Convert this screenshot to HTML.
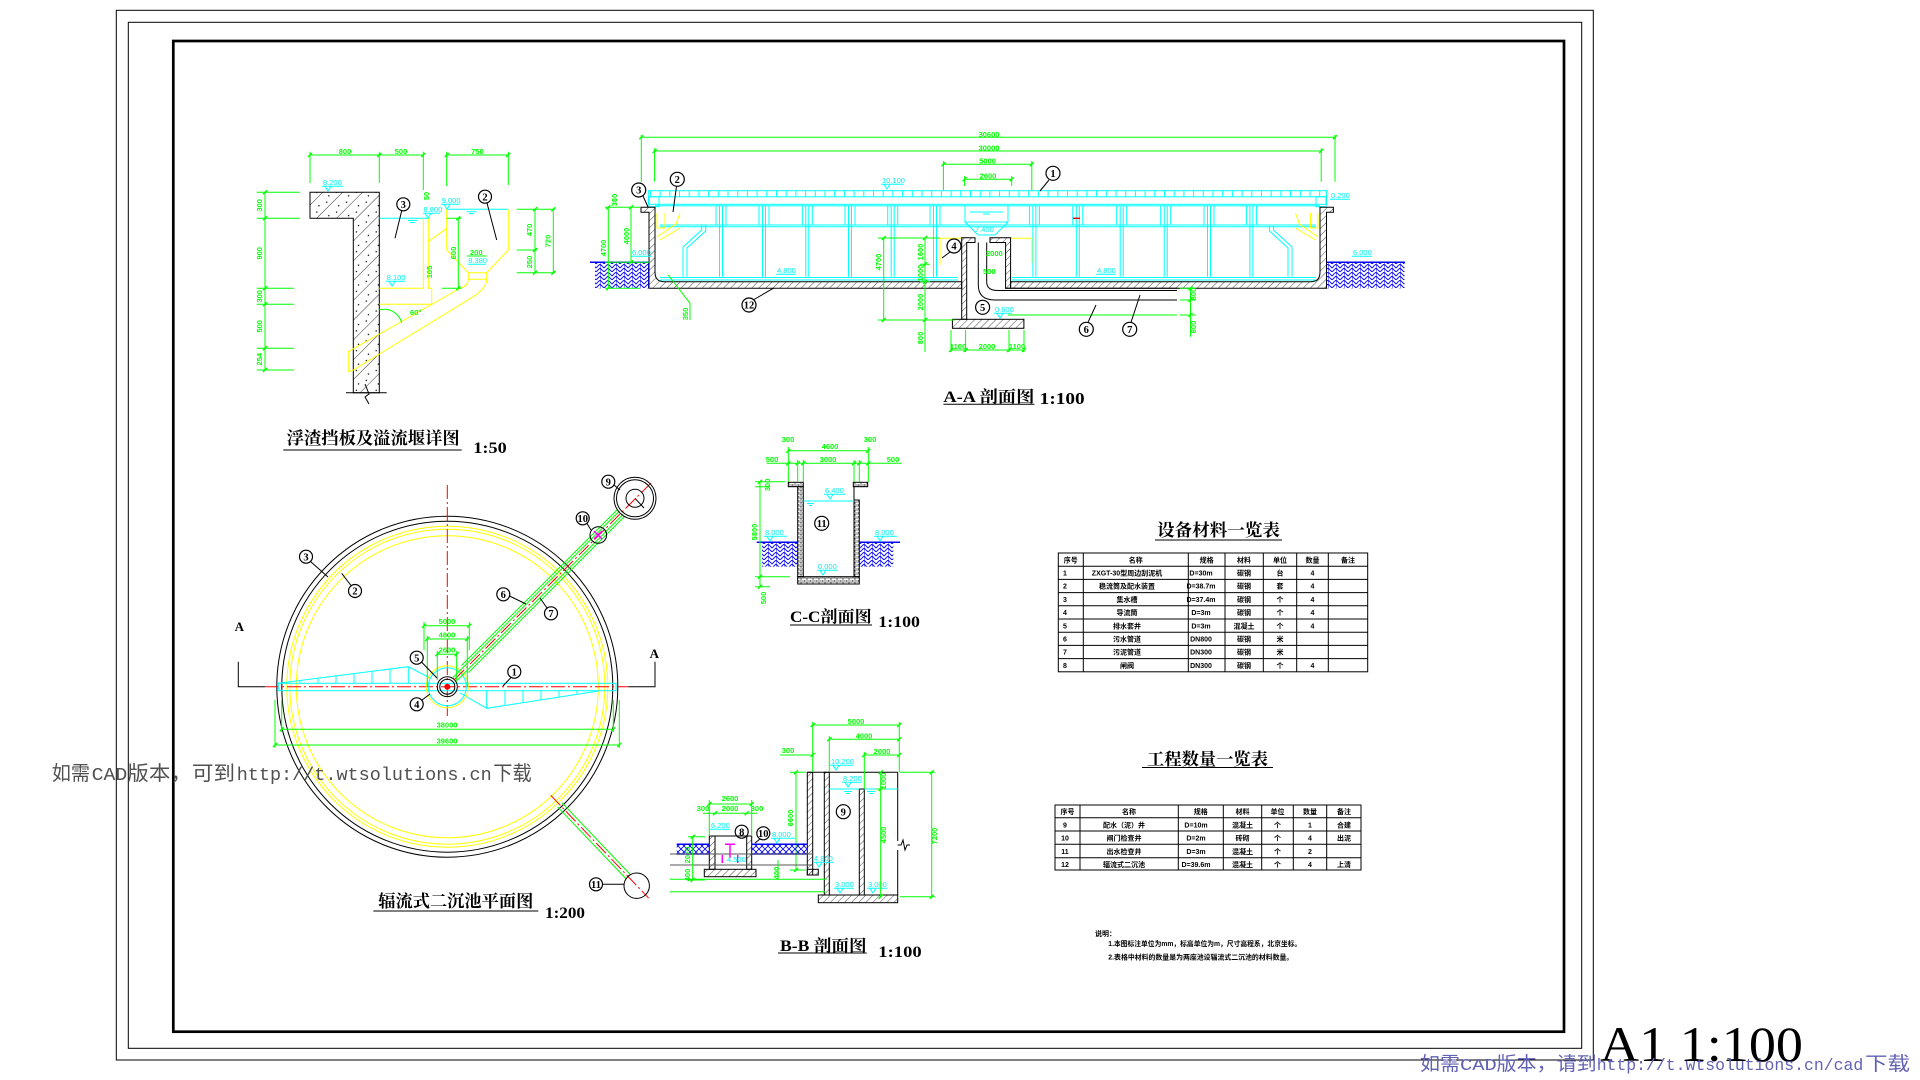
<!DOCTYPE html>
<html><head><meta charset="utf-8">
<style>
html,body{margin:0;padding:0;background:#fff;}
svg{display:block;}
.g{stroke:#00ff00;fill:none;stroke-width:1}
.gt{stroke:#00ff00;fill:none;stroke-width:1.4}
.c{stroke:#00ffff;fill:none;stroke-width:1}
.y{stroke:#ffff00;fill:none;stroke-width:1}
.k{stroke:#000;fill:none;stroke-width:1}
.r{stroke:#ff0000;fill:none;stroke-width:1;stroke-dasharray:14 3 2 3}
.b{stroke:#0000ff;fill:none;stroke-width:1.5}
.m{stroke:#ff00ff;fill:none;stroke-width:1.5}
.tg{fill:#00ff00;font-family:"Liberation Sans",sans-serif;font-weight:bold;font-size:7.5px}
.tc{fill:#00eeee;font-family:"Liberation Sans",sans-serif;font-size:7.5px}
.tt{font-family:"Liberation Serif","Noto Serif CJK SC",serif;font-weight:bold;fill:#000}
.tk{font-family:"Liberation Sans","Noto Sans CJK SC",sans-serif;font-weight:bold;fill:#000;font-size:7px}
.cn{font-family:"Liberation Serif",serif;font-size:10.5px;font-weight:bold;fill:#000;text-anchor:middle}
.ck{stroke:#000;fill:none;stroke-width:1.2}
</style></head><body>
<svg width="1920" height="1080" viewBox="0 0 1920 1080" xmlns="http://www.w3.org/2000/svg">
<defs>
<pattern id="hc" width="14" height="14" patternUnits="userSpaceOnUse" patternTransform="rotate(45)"><line x1="0" y1="0" x2="0" y2="14" stroke="#000" stroke-width="0.8"/><circle cx="7" cy="4" r="0.7" fill="#000"/><circle cx="10" cy="10" r="0.7" fill="#000"/></pattern>
<pattern id="hd" width="5" height="5" patternUnits="userSpaceOnUse" patternTransform="rotate(45)"><line x1="0" y1="0" x2="0" y2="5" stroke="#000" stroke-width="0.7"/></pattern>
<pattern id="soil" width="8" height="8" patternUnits="userSpaceOnUse"><path d="M0 0L4 4L8 0M0 4L4 8L8 4M0 0V8" stroke="#0000ff" stroke-width="0.9" fill="none"/></pattern>
<pattern id="sx" width="6" height="6" patternUnits="userSpaceOnUse"><path d="M0 0L6 6M6 0L0 6" stroke="#0000ff" stroke-width="0.8"/></pattern>
<pattern id="brick" width="6" height="4" patternUnits="userSpaceOnUse"><path d="M0 0H6M0 2H6M0 0V2M3 2V4" stroke="#000" stroke-width="0.6" fill="none"/></pattern>
<pattern id="cv" width="9.7" height="10" patternUnits="userSpaceOnUse"><line x1="0.5" y1="0" x2="0.5" y2="10" stroke="#00ffff" stroke-width="1"/></pattern>
<g id="post"><path d="M-1.5 0V71M1.5 0V71M-5 0V19.3M5 0V19.3" stroke="#00ffff" fill="none"/></g>
</defs>

<!-- FRAMES -->
<rect x="116.3" y="10.3" width="1477" height="1049.7" class="k"/>
<rect x="128.3" y="22.3" width="1453.4" height="1026" class="k"/>
<rect x="173.3" y="41" width="1390.7" height="990.7" fill="none" stroke="#000" stroke-width="2.7"/>

<!-- ===== DETAIL 1 ===== -->
<g>
<path class="g" d="M310 155H423.3M446.7 155H508.3M310 151.7V183M379.3 151.7V183M423.3 151.7V190M446.7 151.7V186M508.3 151.7V185"/>
<path class="gt" d="M308 157l4-4M377.3 157l4-4M421.3 157l4-4M444.7 157l4-4M506.3 157l4-4"/>
<text class="tg" x="345" y="154" text-anchor="middle">800</text>
<text class="tg" x="401" y="154" text-anchor="middle">500</text>
<text class="tg" x="477.5" y="154" text-anchor="middle">750</text>
<path class="g" d="M265 192.3V370M256.7 192.3H300M256.7 218.3H300M256.7 288.3H294M256.7 304.3H294M256.7 348.3H294M256.7 370H294"/>
<path class="gt" d="M263 194.3l4-4M263 220.3l4-4M263 290.3l4-4M263 306.3l4-4M263 350.3l4-4M263 372l4-4"/>
<g class="tg" text-anchor="middle">
<text transform="translate(262,205.3) rotate(-90)">300</text>
<text transform="translate(262,253.3) rotate(-90)">900</text>
<text transform="translate(262,296.3) rotate(-90)">300</text>
<text transform="translate(262,326.3) rotate(-90)">500</text>
<text transform="translate(262,359.2) rotate(-90)">254</text>
</g>
<path d="M310 192.3H379.3V392.7H353.3V218.3H310Z" fill="url(#hc)" stroke="#000"/>
<path class="k" d="M346 392.7H386.7M365 384L369 394L365 397L369 404"/>
<path class="c" d="M379.3 218.3H430M446.7 209.3H508.3M408 220.5H417M410 222.5H415M466.7 211.7H476.7M469 213.5H474"/>
<text class="tc" x="323" y="185">8.200</text><path class="c" d="M322 186.3H343M325 186.3L328 191L331 186.3"/>
<text class="tc" x="423.5" y="212">8.800</text><path class="c" d="M423 213.3H440M425 213.3L428 218L431 213.3"/>
<text class="tc" x="441.7" y="203">9.000</text><path class="c" d="M441 204.3H460M444 204.3L447 209L450 204.3"/>
<text class="tc" x="386.7" y="280">8.100</text><path class="c" d="M386 281.3H405M389 281.3L392 286L395 281.3"/>
<text class="tc" x="468.3" y="263">8.380</text><path class="c" d="M468 264.3H486"/>
<path class="y" d="M379.3 288.3H423.3V218.3M428.3 218.3V288.3H431.7V304.3H379.3M428.3 241.7L446.7 228.3M446.7 209.3V250L468.3 272.7H486.7L508.3 250V209.3M468.3 272.7V279.3H486.7V272.7M468.3 279.3Q468 286 460 288.3L348.3 351.7V371.7L353.3 370L473.3 296.7Q486.7 288 486.7 279.3"/>
<path class="g" d="M458.3 218.3V288.3M446.7 218.3H461.7M441.7 288.3H461.7M466.7 256H486.7M379.3 310A18 18 0 0 1 401.7 322.7"/>
<path class="gt" d="M456.3 220.3l4-4M456.3 290.3l4-4"/>
<text class="tg" transform="translate(456,253) rotate(-90)" text-anchor="middle">600</text>
<text class="tg" x="470" y="255">200</text>
<text class="tg" x="410" y="315">60°</text>
<text class="tg" transform="translate(429,196) rotate(-90)" text-anchor="middle">50</text>
<text class="tg" transform="translate(432,272) rotate(-90)" text-anchor="middle">105</text>
<path class="g" d="M535 209.3V272.7M553.3 209.3V272.7M516.7 209.3H555M516.7 250H537M516.7 272.7H555"/>
<path class="gt" d="M533 211.3l4-4M533 252l4-4M533 274.7l4-4M551.3 211.3l4-4M551.3 274.7l4-4"/>
<text class="tg" transform="translate(532,230) rotate(-90)" text-anchor="middle">470</text>
<text class="tg" transform="translate(532,262) rotate(-90)" text-anchor="middle">250</text>
<text class="tg" transform="translate(550.5,241) rotate(-90)" text-anchor="middle">720</text>
<circle cx="403.3" cy="204.3" r="6.5" class="ck"/><text class="cn" x="403.3" y="208">3</text>
<path class="k" d="M401.7 210.8L395 238.3"/>
<circle cx="485" cy="196.7" r="6.5" class="ck"/><text class="cn" x="485" y="200.4">2</text>
<path class="k" d="M487 203L496.7 240"/>
<text class="tt" x="286.7" y="444" font-size="17" textLength="173" lengthAdjust="spacingAndGlyphs">浮渣挡板及溢流堰详图</text>
<path class="k" d="M283.3 450H461.7"/>
<text class="tt" x="473.3" y="453" font-size="16" textLength="33.4" lengthAdjust="spacingAndGlyphs">1:50</text>
</g>

<!-- ===== A-A SECTION ===== -->
<g>
<path class="g" d="M641.3 137.3H1335M641.3 135V181.7M1335 135V181.7M654.6 151H1321.2M654.6 148.3V181.7M1321.2 148.3V181.7M943.4 164.3H1031.8M943.4 161V190M1031.8 161V190M964.6 179.3H1011.7M964.6 176V186M1011.7 176V186"/>
<path class="gt" d="M639.3 139.3l4-4M1333 139.3l4-4M652.6 153l4-4M1319.2 153l4-4M941.4 166.3l4-4M1029.8 166.3l4-4M962.6 181.3l4-4M1009.7 181.3l4-4"/>
<text class="tg" x="989" y="137" text-anchor="middle">30600</text>
<text class="tg" x="989" y="150.5" text-anchor="middle">30000</text>
<text class="tg" x="987.6" y="163.5" text-anchor="middle">5000</text>
<text class="tg" x="988" y="178.5" text-anchor="middle">2600</text>
<rect x="649" y="190.7" width="677" height="6" fill="url(#cv)"/>
<rect class="c" x="648.3" y="190.7" width="678.2" height="13.6"/>
<path class="c" d="M648.3 196.7H1326.5M655 205.7H1320M660 225H1316M660 226.7H1316"/>
<rect class="c" x="649" y="196.7" width="10" height="10"/>
<rect class="c" x="1316" y="196.7" width="10" height="10"/>
<text class="tc" x="882" y="183">10.100</text><path class="c" d="M881 184.3H903M884 184.3L887 189L890 184.3"/>
<text class="tc" x="1331" y="198">0.200</text><path class="c" d="M1330 199.3H1350"/>
<use href="#post" x="721" y="205.7"/><use href="#post" x="764" y="205.7"/><use href="#post" x="807.3" y="205.7"/>
<use href="#post" x="850" y="205.7"/><use href="#post" x="892.7" y="205.7"/><use href="#post" x="935" y="205.7"/>
<use href="#post" x="1034.4" y="205.7"/><use href="#post" x="1077.8" y="205.7"/><use href="#post" x="1121.7" y="205.7"/>
<use href="#post" x="1165.7" y="205.7"/><use href="#post" x="1209" y="205.7"/><use href="#post" x="1251.4" y="205.7"/>
<path class="c" d="M965 205.7V222L978 235H995L1008 222V205.7M965 222H1008M970 212H1003M983 214H990"/>
<text class="tc" x="975" y="232">7.400</text>
<path class="c" d="M701.7 225V230L683 247V276.7M705.7 225V231L687 248V276.7M1273.5 226V230L1292 247V276.7M1269.5 226V231L1288 248V276.7"/>
<path class="c" d="M660 277.5H958M1012 277.5H1316M660 280H958M1012 280H1316"/>
<text class="tc" x="777" y="273">4.800</text><path class="c" d="M776 274.3H796"/>
<text class="tc" x="1097" y="273">4.800</text><path class="c" d="M1096 274.3H1116"/>
<path class="y" d="M657 213V228H665V213M657 237L676 224L680 213M660 240L680 228M1318 213V228H1310.5V213M1318 237L1299.5 224L1295.5 213M1315.5 240L1295.5 228M940 238.3H961.7M940 238.3V265M1010.6 238.3H1031.8V263"/>
<path d="M641 207.3H655V272Q655 281.7 664 281.7H961.7V288.3H649V212.3H641Z" fill="url(#hd)" stroke="#000"/>
<path d="M1333.4 207.3H1320V272Q1320 281.7 1311 281.7H1010.6V288.3H1326.5V212.3H1333.4Z" fill="url(#hd)" stroke="#000"/>
<path d="M961.7 237.7H975V242.5H966.7V319.3H961.7Z" fill="url(#hd)" stroke="#000"/>
<path d="M990 237.7H1010.6V288.3H1005.6V242.5H990Z" fill="url(#hd)" stroke="#000"/>
<rect x="952.4" y="319.3" width="71.5" height="9" fill="url(#hd)" stroke="#000"/>
<path class="k" d="M978.3 242.5V285Q978.3 300 995 300H1177M986.7 242.5V282Q986.7 290.5 998 290.5H1177M1005 288.3H1177"/>
<path class="g" d="M1008 315H1177"/>
<text class="tc" x="995" y="312">0.600</text><path class="c" d="M994 313.3H1012M997 313.3L1000 318L1003 313.3"/>
<path style="stroke:#f00;stroke-width:1.5" d="M1073 218.3H1080"/>
<rect x="595" y="262.3" width="54" height="26" fill="url(#soil)"/>
<path class="b" d="M590 262.3H649"/>
<rect x="1326.5" y="262.3" width="78" height="26" fill="url(#soil)"/>
<path class="b" d="M1326.5 262.3H1405"/>
<text class="tc" x="632" y="255">6.000</text><path class="c" d="M631 256.3H651"/>
<text class="tc" x="1353" y="255">6.000</text><path class="c" d="M1352 256.3H1372"/>
<path class="g" d="M608.3 207.3V288.3M631 207.3V262.3M605 207.3H640M605 262.3H650M605 288.3H640M668.3 275L690 303.3V320"/>
<path class="gt" d="M606.3 209.3l4-4M606.3 290.3l4-4M629 209.3l4-4M629 264.3l4-4"/>
<text class="tg" transform="translate(606,248) rotate(-90)" text-anchor="middle">4700</text>
<text class="tg" transform="translate(629,236) rotate(-90)" text-anchor="middle">4000</text>
<text class="tg" transform="translate(617,200) rotate(-90)" text-anchor="middle">380</text>
<text class="tg" transform="translate(688,314) rotate(-90)" text-anchor="middle">350</text>
<path class="g" d="M883.7 238V320M878 238H940M878 320H955M925 238V352M920 264.3H930M920 281.7H930M951 350H1024M951 330V352M965.6 330V352M1009 330V352M1024 330V352M1190.5 288.3V336.7M1180 288.3H1196M1180 300H1196M1180 315H1196"/>
<path class="gt" d="M881.7 240l4-4M881.7 322l4-4M923 240l4-4M923 266.3l4-4M923 283.7l4-4M923 322l4-4M949 352l4-4M963.6 352l4-4M1007 352l4-4M1022 352l4-4M1188.5 290.3l4-4M1188.5 302l4-4M1188.5 317l4-4"/>
<text class="tg" transform="translate(881,262) rotate(-90)" text-anchor="middle">4700</text>
<text class="tg" transform="translate(923,252) rotate(-90)" text-anchor="middle">1600</text>
<text class="tg" transform="translate(923,273) rotate(-90)" text-anchor="middle">1000</text>
<text class="tg" transform="translate(923,302) rotate(-90)" text-anchor="middle">2000</text>
<text class="tg" transform="translate(923,338) rotate(-90)" text-anchor="middle">800</text>
<text class="tg" x="958" y="349" text-anchor="middle">1100</text>
<text class="tg" x="987" y="349" text-anchor="middle">2000</text>
<text class="tg" x="1017" y="349" text-anchor="middle">1100</text>
<text class="tg" transform="translate(1196,294) rotate(-90)" text-anchor="middle">800</text>
<text class="tg" transform="translate(1196,327) rotate(-90)" text-anchor="middle">800</text>
<text class="tg" x="986" y="256">2000</text>
<text class="tg" x="983" y="274">500</text>
<circle cx="1053" cy="173.3" r="7" class="ck"/><text class="cn" x="1053" y="177">1</text><path class="k" d="M1049 180L1040 191"/>
<circle cx="677.3" cy="179.3" r="7" class="ck"/><text class="cn" x="677.3" y="183">2</text><path class="k" d="M676.5 186.3L673 212"/>
<circle cx="638.7" cy="190" r="7" class="ck"/><text class="cn" x="638.7" y="193.7">3</text><path class="k" d="M643 196L648 207"/>
<circle cx="954" cy="246" r="7" class="ck"/><text class="cn" x="954" y="249.7">4</text><path class="k" d="M950 252L942 258"/>
<circle cx="982.6" cy="307.3" r="7" class="ck"/><text class="cn" x="982.6" y="311">5</text>
<circle cx="1086.3" cy="329.3" r="7" class="ck"/><text class="cn" x="1086.3" y="333">6</text><path class="k" d="M1088 322.3L1096 305"/>
<circle cx="1129.7" cy="329.3" r="7" class="ck"/><text class="cn" x="1129.7" y="333">7</text><path class="k" d="M1131 322.3L1140 295"/>
<circle cx="749" cy="305" r="7" class="ck"/><text class="cn" x="749" y="308.7" font-size="8.5">12</text><path class="k" d="M754 299.5L773.3 288.3"/>
<text class="tt" x="943.4" y="402" font-size="16" textLength="91" lengthAdjust="spacingAndGlyphs">A-A 剖面图</text>
<path class="k" d="M943.4 404.3H1034.4"/>
<text class="tt" x="1039.7" y="404" font-size="17" textLength="45" lengthAdjust="spacingAndGlyphs">1:100</text>
</g>

<!-- ===== PLAN ===== -->
<g>
<circle cx="447.3" cy="686.7" r="170.5" class="k"/>
<circle cx="447.3" cy="686.7" r="165.5" class="k"/>
<circle cx="447.3" cy="686.7" r="160.5" class="y"/>
<circle cx="447.3" cy="686.7" r="157.5" class="y"/>
<circle cx="447.3" cy="686.7" r="151" class="y"/>
<path class="r" d="M447.3 485V716M265 686.7H628.3"/>
<path class="k" stroke-width="1.4" d="M238.3 661.7V686.7H265M655 661.7V686.7H628.3"/>
<text class="tt" x="239.3" y="631" font-size="13" text-anchor="middle">A</text>
<text class="tt" x="654.3" y="658" font-size="13" text-anchor="middle">A</text>
<rect class="c" x="278.3" y="683.3" width="337.7" height="7.4"/>
<path class="c" d="M278.3 683.3L408.3 666.7L430 678M300 680.5V683.3M318 678.2V683.3M336 675.9V683.3M354 673.6V683.3M372 671.3V683.3M390 669V683.3M408.3 666.7V683.3"/>
<path class="c" d="M460 693L486.7 708.3L600 690.7M486.7 690.7V708.3M505 690.7V705.3M523 690.7V702.4M541 690.7V699.5M559 690.7V696.6M577 690.7V693.7"/>
<circle cx="447.3" cy="686.7" r="21" class="y"/>
<circle cx="447.3" cy="686.7" r="19" class="c"/>
<circle cx="447.3" cy="686.7" r="10" class="k"/>
<circle cx="447.3" cy="686.7" r="7.5" class="k"/>
<circle cx="447.3" cy="686.7" r="3" fill="#ff0000"/>
<g transform="translate(447.3,686.7) rotate(-45)">
<path class="g" d="M10 -2.5H246M10 2.5H246M25 -5H246M25 5H246"/>
<path class="r" d="M10 0H290"/>
</g>
<g transform="translate(447.3,686.7) rotate(46.4)">
<path class="g" d="M163 -3H262M163 3H262"/>
<path class="r" d="M150 0H292"/>
</g>
<circle cx="635" cy="498.3" r="21" class="k"/>
<circle cx="635" cy="498.3" r="18.5" class="k"/>
<circle cx="635" cy="498.3" r="9" class="k"/>
<path class="k" stroke-width="2" d="M635 498.3L644 508"/>
<circle cx="598.3" cy="535" r="8.3" class="k"/>
<path class="m" d="M594 531L602 539M594 539L602 531"/>
<path class="g" d="M281.7 729.3H613.3M275 745H619.3M281.7 700V732M613.3 700V732M275 700V748M619.3 700V748"/>
<path class="gt" d="M279.7 731.3l4-4M611.3 731.3l4-4M273 747l4-4M617.3 747l4-4"/>
<text class="tg" x="447" y="727.5" text-anchor="middle">38000</text>
<text class="tg" x="447" y="743.5" text-anchor="middle">39600</text>
<path class="g" d="M424 625.7H469.3M427.3 639H467.3M437.3 654.3H456.7M424 622V650M469.3 622V650M427.3 636V686M467.3 636V686M437.3 651V680M456.7 651V680"/>
<path class="gt" d="M422 627.7l4-4M467.3 627.7l4-4M425.3 641l4-4M465.3 641l4-4M435.3 656.3l4-4M454.7 656.3l4-4"/>
<text class="tg" x="447" y="624" text-anchor="middle">5000</text>
<text class="tg" x="447" y="637.5" text-anchor="middle">4600</text>
<text class="tg" x="447" y="652.5" text-anchor="middle">2600</text>
<circle cx="306" cy="556.7" r="6.5" class="ck"/><text class="cn" x="306" y="560.4">3</text><path class="k" d="M310.5 561.5L328 577"/>
<circle cx="355" cy="591" r="6.5" class="ck"/><text class="cn" x="355" y="594.7">2</text><path class="k" d="M351 585.5L341.7 573.3"/>
<circle cx="503.3" cy="594.3" r="6.5" class="ck"/><text class="cn" x="503.3" y="598">6</text><path class="k" d="M509.5 596L526 604"/>
<circle cx="551" cy="613.3" r="6.5" class="ck"/><text class="cn" x="551" y="617">7</text><path class="k" d="M547 608L540 598"/>
<circle cx="416.7" cy="657.7" r="6.5" class="ck"/><text class="cn" x="416.7" y="661.4">5</text><path class="k" d="M421.5 662L437 678"/>
<circle cx="416.7" cy="704.3" r="6.5" class="ck"/><text class="cn" x="416.7" y="708">4</text><path class="k" d="M422 700L430 694"/>
<circle cx="514.3" cy="671.7" r="6.5" class="ck"/><text class="cn" x="514.3" y="675.4">1</text><path class="k" d="M511 677.5L503 686"/>
<circle cx="608.3" cy="481.7" r="6.5" class="ck"/><text class="cn" x="608.3" y="485.4">9</text><path class="k" d="M614 485L620 490"/>
<circle cx="582.7" cy="518.3" r="6.5" class="ck"/><text class="cn" x="582.7" y="521.8" font-size="8">10</text><path class="k" d="M587 523.5L591 530"/>
<circle cx="596" cy="884.3" r="6.5" class="ck"/><text class="cn" x="596" y="887.8" font-size="8">11</text><path class="k" d="M602.5 884.3H624"/>
<circle cx="636.7" cy="885.7" r="12.7" class="k"/>
<text class="tt" x="378.3" y="907" font-size="17" textLength="155" lengthAdjust="spacingAndGlyphs">辐流式二沉池平面图</text>
<path class="k" d="M373.3 911H538.3"/>
<text class="tt" x="545" y="918" font-size="16" textLength="40" lengthAdjust="spacingAndGlyphs">1:200</text>
</g>

<!-- ===== C-C ===== -->
<g>
<rect x="797.7" y="486.7" width="5.6" height="90" fill="url(#brick)" stroke="#000"/>
<rect x="788.3" y="482.3" width="15" height="4.4" fill="url(#brick)" stroke="#000"/>
<rect x="854" y="500" width="5.3" height="76.7" fill="url(#brick)" stroke="#000"/>
<rect x="853.3" y="482.3" width="14.4" height="4.4" fill="url(#brick)" stroke="#000"/>
<path class="k" d="M854 486.7V500"/>
<rect x="797.7" y="576.7" width="61.6" height="7.3" fill="url(#brick)" stroke="#000"/>
<path class="c" d="M803.3 501H854M807 503.5H814M809 505.5H812"/>
<text class="tc" x="825" y="493">6.400</text><path class="c" d="M824 494.3H845M827 494.3L830 499L833 494.3"/>
<rect x="762" y="542.3" width="35.7" height="24.4" fill="url(#soil)"/>
<rect x="859.3" y="542.3" width="34" height="24.4" fill="url(#soil)"/>
<path class="b" d="M756.7 542.3H797.7M859.3 542.3H900"/>
<text class="tc" x="765" y="535">8.000</text><path class="c" d="M764 536.3H787M767 536.3L770 541L773 536.3"/>
<text class="tc" x="875" y="535">8.000</text><path class="c" d="M874 536.3H897M877 536.3L880 541L883 536.3"/>
<text class="tc" x="818" y="569">0.000</text><path class="c" d="M817 570.3H838M820 570.3L823 575L826 570.3"/>
<circle cx="821.7" cy="523.3" r="7" class="ck"/><text class="cn" x="821.7" y="526.8" font-size="8.5">11</text>
<path class="g" d="M788.3 450.7H868.3M766.7 463.3H901.7M788.3 447V482M797.7 460V482M803.3 460V482M854 460V482M859.3 460V482M868.3 447V482M760 481.7V586.7M755 481.7H785M755 486.7H770M755 576.7H790M755 586.7H770"/>
<path class="gt" d="M786.3 452.7l4-4M866.3 452.7l4-4M786.3 465.3l4-4M795.7 465.3l4-4M801.3 465.3l4-4M852 465.3l4-4M857.3 465.3l4-4M866.3 465.3l4-4M758 483.7l4-4M758 578.7l4-4M758 588.7l4-4"/>
<text class="tg" x="788" y="442" text-anchor="middle">300</text>
<text class="tg" x="830" y="449" text-anchor="middle">4600</text>
<text class="tg" x="870" y="442" text-anchor="middle">300</text>
<text class="tg" x="772" y="462" text-anchor="middle">500</text>
<text class="tg" x="828" y="462" text-anchor="middle">3000</text>
<text class="tg" x="893" y="462" text-anchor="middle">500</text>
<text class="tg" transform="translate(757,532) rotate(-90)" text-anchor="middle">5800</text>
<text class="tg" transform="translate(770,485) rotate(-90)" text-anchor="middle">300</text>
<text class="tg" transform="translate(766,598) rotate(-90)" text-anchor="middle">500</text>
<text class="tt" x="790" y="622" font-size="16" textLength="81.7" lengthAdjust="spacingAndGlyphs">C-C剖面图</text>
<path class="k" d="M790 625H872"/>
<text class="tt" x="878.3" y="627" font-size="16" textLength="41.7" lengthAdjust="spacingAndGlyphs">1:100</text>
</g>

<!-- ===== B-B ===== -->
<g>
<rect x="807.3" y="772.3" width="5.4" height="102.7" fill="url(#hd)" stroke="#000"/>
<rect x="824.3" y="772.3" width="5" height="122.7" fill="url(#hd)" stroke="#000"/>
<rect x="859.3" y="789" width="5" height="106" fill="url(#hd)" stroke="#000"/>
<path class="k" d="M807.3 772.3H897.7M897.7 772.3V841M897.7 850V895"/>
<path class="k" d="M897.7 845H901L903 840L905 850L907 845H910"/>
<rect x="818.3" y="895" width="79.4" height="7.7" fill="url(#hd)" stroke="#000"/>
<rect x="807.3" y="869.3" width="11" height="5.7" fill="url(#hd)" stroke="#000"/>
<path class="c" d="M829.3 789H859.3M864.3 789H897.7M844 791.5H852M846 793.5H850M867 791.5H875M869 793.5H873"/>
<text class="tc" x="831" y="764">10.200</text><path class="c" d="M830 765.3H853M833 765.3L836 770L839 765.3"/>
<text class="tc" x="843" y="781">8.200</text><path class="c" d="M842 782.3H862M845 782.3L848 787L851 782.3"/>
<text class="tc" x="814" y="861">4.800</text><path class="c" d="M813 862.3H833M816 862.3L819 867L822 862.3"/>
<text class="tc" x="835" y="887">3.000</text><path class="c" d="M834 888.3H854M837 888.3L840 893L843 888.3"/>
<text class="tc" x="868" y="887">3.000</text><path class="c" d="M867 888.3H887M870 888.3L873 893L876 888.3"/>
<circle cx="843.3" cy="811.7" r="7" class="ck"/><text class="cn" x="843.3" y="815.4">9</text>
<path class="g" d="M931.7 772.3V896.7M900 772.3H935M900 896.7H935M880.7 772.3V896.7M875 789H886M812.7 725H899.3M812.7 722V772M899.3 722V772M829.3 739.3H899.3M829.3 736V772M864.3 755H899.3M864.3 752V789M780 755H812.7M796 772.3V870M790 772.3H806M790 870H806"/>
<path class="gt" d="M929.7 774.3l4-4M929.7 898.7l4-4M878.7 774.3l4-4M878.7 791l4-4M878.7 898.7l4-4M810.7 727l4-4M897.3 727l4-4M827.3 741.3l4-4M897.3 741.3l4-4M862.3 757l4-4M897.3 757l4-4M810.7 757l4-4M794 774.3l4-4M794 872l4-4"/>
<text class="tg" transform="translate(937,836) rotate(-90)" text-anchor="middle">7200</text>
<text class="tg" transform="translate(886,781) rotate(-90)" text-anchor="middle">1000</text>
<text class="tg" transform="translate(886,835) rotate(-90)" text-anchor="middle">4500</text>
<text class="tg" transform="translate(793,818) rotate(-90)" text-anchor="middle">6600</text>
<text class="tg" x="856" y="724" text-anchor="middle">5000</text>
<text class="tg" x="864" y="738.5" text-anchor="middle">4000</text>
<text class="tg" x="882" y="754" text-anchor="middle">2000</text>
<text class="tg" x="788" y="753" text-anchor="middle">300</text>
<rect x="709.3" y="836" width="5.7" height="33.3" fill="url(#hd)" stroke="#000"/>
<rect x="746.7" y="836" width="5" height="33.3" fill="url(#hd)" stroke="#000"/>
<path class="k" d="M709.3 836H751.7"/>
<rect x="704.3" y="869.3" width="51.7" height="7.4" fill="url(#hd)" stroke="#000"/>
<rect x="676.7" y="844.3" width="32.6" height="9.7" fill="url(#sx)"/>
<rect x="751.7" y="844.3" width="55.6" height="9.7" fill="url(#sx)"/>
<path class="b" d="M676.7 844.3H709.3M676.7 854H709.3M751.7 844.3H807.3M751.7 854H807.3"/>
<path stroke="#555" fill="none" d="M670 854H813.3M670 865H813.3"/>
<path class="g" d="M670 879.3H826.7M670 891.7H825"/>
<path class="m" d="M725 844.3H735M730 844.3V858M722.3 855V863M737.7 855V863"/>
<circle cx="741.7" cy="831.7" r="6.5" class="ck"/><text class="cn" x="741.7" y="835.4">8</text>
<circle cx="763.3" cy="833.3" r="6.5" class="ck"/><text class="cn" x="763.3" y="836.8" font-size="8">10</text>
<path class="k" d="M755 843L760 839"/>
<text class="tc" x="711" y="828">6.200</text><path class="c" d="M710 829.3H730"/>
<text class="tc" x="772" y="837">8.000</text><path class="c" d="M771 838.3H795M774 838.3L777 843L780 838.3"/>
<text class="tc" x="727" y="862">4.500</text>
<path class="g" d="M709.3 804H751.7M715 813.3H746.7M703 813.3H715M746.7 813.3H757M709.3 800V836M751.7 800V836M692.7 836.7V880M688 836.7H705M688 880H705M778 860V880"/>
<path class="gt" d="M707.3 806l4-4M749.7 806l4-4M713 815.3l4-4M744.7 815.3l4-4M690.7 838.7l4-4M690.7 882l4-4"/>
<text class="tg" x="730" y="801" text-anchor="middle">2600</text>
<text class="tg" x="730" y="811" text-anchor="middle">2000</text>
<text class="tg" x="703" y="811" text-anchor="middle">300</text>
<text class="tg" x="757" y="811" text-anchor="middle">300</text>
<text class="tg" transform="translate(690,855) rotate(-90)" text-anchor="middle">2070</text>
<text class="tg" transform="translate(690,875) rotate(-90)" text-anchor="middle">400</text>
<text class="tg" transform="translate(779,873) rotate(-90)" text-anchor="middle">400</text>
<text class="tt" x="780" y="951" font-size="16" textLength="86.7" lengthAdjust="spacingAndGlyphs">B-B 剖面图</text>
<path class="k" d="M778 953H866.7"/>
<text class="tt" x="878.3" y="957" font-size="16" textLength="43.4" lengthAdjust="spacingAndGlyphs">1:100</text>
</g>

<!-- ===== TABLE 1 ===== -->
<g>
<text class="tt" x="1157" y="536" font-size="17" textLength="123" lengthAdjust="spacingAndGlyphs">设备材料一览表</text>
<path class="k" d="M1155 540H1282"/>
<rect x="1058.3" y="553" width="309.4" height="118.8" class="k" stroke-width="1.2"/>
<path class="k" d="M1058.3 566.2H1367.7M1058.3 579.4H1367.7M1058.3 592.6H1367.7M1058.3 605.8H1367.7M1058.3 619H1367.7M1058.3 632.2H1367.7M1058.3 645.4H1367.7M1058.3 658.6H1367.7M1083.3 553V671.8M1188.3 553V671.8M1225 553V671.8M1263.3 553V671.8M1296.7 553V671.8M1328.3 553V671.8"/>
<g class="tk" text-anchor="middle">
<text x="1070.8" y="562.3">序号</text><text x="1135.8" y="562.3">名称</text><text x="1206.6" y="562.3">规格</text><text x="1244" y="562.3">材料</text><text x="1280" y="562.3">单位</text><text x="1312.5" y="562.3">数量</text><text x="1348" y="562.3">备注</text>
<text x="1065" y="575.5">1</text><text x="1127" y="575.5">ZXGT-30型周边刮泥机</text><text x="1201" y="575.5">D=30m</text><text x="1244" y="575.5">碳钢</text><text x="1280" y="575.5">台</text><text x="1312.5" y="575.5">4</text>
<text x="1065" y="588.7">2</text><text x="1127" y="588.7">稳流筒及配水装置</text><text x="1201" y="588.7">D=38.7m</text><text x="1244" y="588.7">碳钢</text><text x="1280" y="588.7">套</text><text x="1312.5" y="588.7">4</text>
<text x="1065" y="601.9">3</text><text x="1127" y="601.9">集水槽</text><text x="1201" y="601.9">D=37.4m</text><text x="1244" y="601.9">碳钢</text><text x="1280" y="601.9">个</text><text x="1312.5" y="601.9">4</text>
<text x="1065" y="615.1">4</text><text x="1127" y="615.1">导流筒</text><text x="1201" y="615.1">D=3m</text><text x="1244" y="615.1">碳钢</text><text x="1280" y="615.1">个</text><text x="1312.5" y="615.1">4</text>
<text x="1065" y="628.3">5</text><text x="1127" y="628.3">排水套井</text><text x="1201" y="628.3">D=3m</text><text x="1244" y="628.3">混凝土</text><text x="1280" y="628.3">个</text><text x="1312.5" y="628.3">4</text>
<text x="1065" y="641.5">6</text><text x="1127" y="641.5">污水管道</text><text x="1201" y="641.5">DN800</text><text x="1244" y="641.5">碳钢</text><text x="1280" y="641.5">米</text>
<text x="1065" y="654.7">7</text><text x="1127" y="654.7">污泥管道</text><text x="1201" y="654.7">DN300</text><text x="1244" y="654.7">碳钢</text><text x="1280" y="654.7">米</text>
<text x="1065" y="667.9">8</text><text x="1127" y="667.9">闸阀</text><text x="1201" y="667.9">DN300</text><text x="1244" y="667.9">碳钢</text><text x="1280" y="667.9">个</text><text x="1312.5" y="667.9">4</text>
</g>
</g>

<!-- ===== TABLE 2 ===== -->
<g>
<text class="tt" x="1147" y="765" font-size="17" textLength="121" lengthAdjust="spacingAndGlyphs">工程数量一览表</text>
<path class="k" d="M1142 767.5H1273"/>
<rect x="1055" y="805" width="306" height="65" class="k" stroke-width="1.2"/>
<path class="k" d="M1055 817.7H1361M1055 831H1361M1055 844.3H1361M1055 857.7H1361M1080 805V870M1178.3 805V870M1223.3 805V870M1261.7 805V870M1293.3 805V870M1326.7 805V870"/>
<g class="tk" text-anchor="middle">
<text x="1067.5" y="814">序号</text><text x="1129" y="814">名称</text><text x="1200.8" y="814">规格</text><text x="1242.5" y="814">材料</text><text x="1277.5" y="814">单位</text><text x="1310" y="814">数量</text><text x="1344" y="814">备注</text>
<text x="1065" y="827.3">9</text><text x="1124" y="827.3">配水（泥）井</text><text x="1196" y="827.3">D=10m</text><text x="1242.5" y="827.3">混凝土</text><text x="1277.5" y="827.3">个</text><text x="1310" y="827.3">1</text><text x="1344" y="827.3">合建</text>
<text x="1065" y="840.6">10</text><text x="1124" y="840.6">闸门检查井</text><text x="1196" y="840.6">D=2m</text><text x="1242.5" y="840.6">砖砌</text><text x="1277.5" y="840.6">个</text><text x="1310" y="840.6">4</text><text x="1344" y="840.6">出泥</text>
<text x="1065" y="853.9">11</text><text x="1124" y="853.9">出水检查井</text><text x="1196" y="853.9">D=3m</text><text x="1242.5" y="853.9">混凝土</text><text x="1277.5" y="853.9">个</text><text x="1310" y="853.9">2</text>
<text x="1065" y="867.2">12</text><text x="1124" y="867.2">辐流式二沉池</text><text x="1196" y="867.2">D=39.6m</text><text x="1242.5" y="867.2">混凝土</text><text x="1277.5" y="867.2">个</text><text x="1310" y="867.2">4</text><text x="1344" y="867.2">上清</text>
</g>
<text class="tk" x="1095" y="936">说明：</text>
<text class="tk" x="1108.3" y="946" textLength="193" lengthAdjust="spacingAndGlyphs">1.本图标注单位为mm，标高单位为m，尺寸高程系，北京坐标。</text>
<text class="tk" x="1108.3" y="959.5" textLength="185" lengthAdjust="spacingAndGlyphs">2.表格中材料的数量是为两座池设辐流式二沉池的材料数量。</text>
</g>

<!-- ===== WATERMARKS ===== -->
<g fill="#505050">
<text x="51.7" y="780" font-family="'Noto Sans CJK SC',sans-serif" font-size="20" textLength="38.3" lengthAdjust="spacingAndGlyphs">如需</text>
<text x="91.7" y="780" font-family="'Liberation Mono',monospace" font-size="18.5" textLength="35.6" lengthAdjust="spacingAndGlyphs">CAD</text>
<text x="127.3" y="780" font-family="'Noto Sans CJK SC',sans-serif" font-size="20" textLength="107.7" lengthAdjust="spacingAndGlyphs">版本，可到</text>
<text x="236.7" y="780" font-family="'Liberation Mono',monospace" font-size="18.5" textLength="255" lengthAdjust="spacingAndGlyphs">http://t.wtsolutions.cn</text>
<text x="493.3" y="780" font-family="'Noto Sans CJK SC',sans-serif" font-size="20" textLength="38.4" lengthAdjust="spacingAndGlyphs">下载</text>
</g>
<text x="1600" y="1061" font-family="'Liberation Serif',serif" font-size="50" fill="#000" textLength="203" lengthAdjust="spacingAndGlyphs">A1 1:100</text>
<g fill="#6262b4">
<text x="1420" y="1070" font-family="'Noto Sans CJK SC',sans-serif" font-size="19" textLength="40" lengthAdjust="spacingAndGlyphs">如需</text>
<text x="1460" y="1070" font-family="'Liberation Mono',monospace" font-size="16.5" textLength="36.7" lengthAdjust="spacingAndGlyphs">CAD</text>
<text x="1496.7" y="1070" font-family="'Noto Sans CJK SC',sans-serif" font-size="19" textLength="100" lengthAdjust="spacingAndGlyphs">版本，请到</text>
<text x="1596.7" y="1070" font-family="'Liberation Mono',monospace" font-size="16.5" textLength="266.6" lengthAdjust="spacingAndGlyphs">http://t.wtsolutions.cn/cad</text>
<text x="1865" y="1070" font-family="'Noto Sans CJK SC',sans-serif" font-size="19" textLength="45" lengthAdjust="spacingAndGlyphs">下载</text>
</g>
</svg>
</body></html>
